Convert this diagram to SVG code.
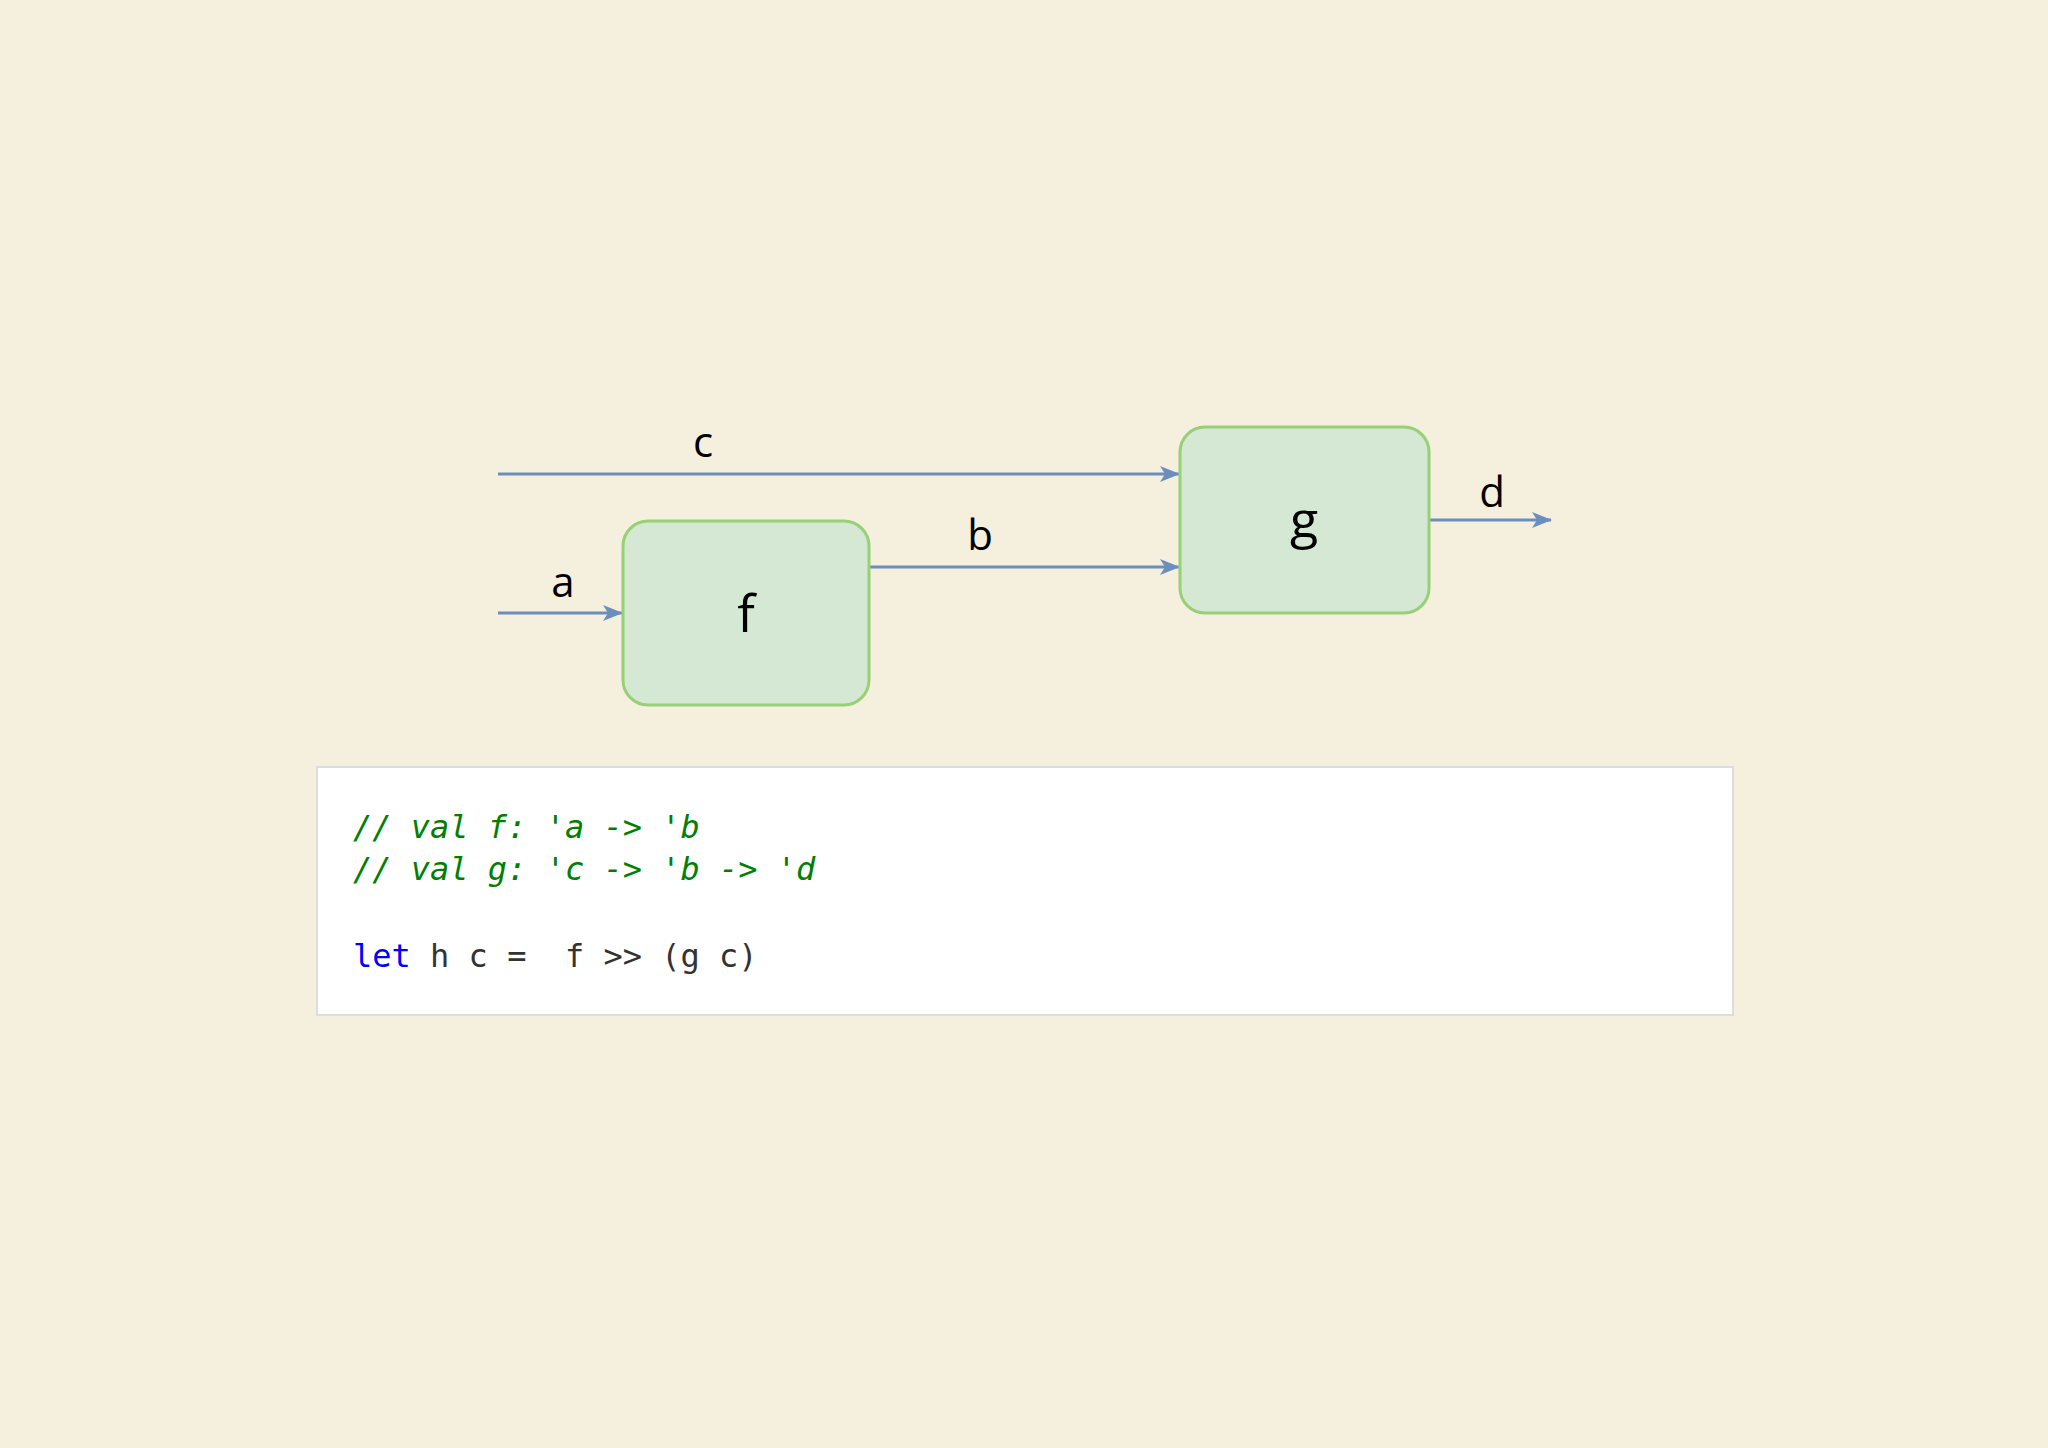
<svg xmlns="http://www.w3.org/2000/svg" width="2048" height="1448" viewBox="0 0 2048 1448">
<defs>
<style>
.node{fill:#d5e8d4;stroke:#97d077;stroke-width:3}
.edge{stroke:#6c8ebf;stroke-width:3;fill:none}
.lbl{font-family:"Open Sans","DejaVu Sans",sans-serif;font-size:42px;fill:#000;text-anchor:middle}
.nlbl{font-family:"Open Sans","DejaVu Sans",sans-serif;font-size:52px;fill:#000;text-anchor:middle}
.code{font-family:"DejaVu Sans Mono","Liberation Mono",monospace;font-size:32px;white-space:pre}
.cm{fill:#008000;font-style:italic}
.kw{fill:#0000ff}
.tx{fill:#333333}
</style>
<marker id="arr" viewBox="0 0 20 16" refX="19" refY="8" markerWidth="20" markerHeight="16" markerUnits="userSpaceOnUse" orient="auto">
<path d="M0,0 L20,8 L0,16 L5,8 Z" fill="#6c8ebf"/>
</marker>
</defs>
<rect width="2048" height="1448" fill="#f4f0dd"/>
<g id="connectors">
<line class="edge" x1="498" y1="474" x2="1179" y2="474" marker-end="url(#arr)"/>
<line class="edge" x1="498" y1="613" x2="622" y2="613" marker-end="url(#arr)"/>
<line class="edge" x1="869" y1="567" x2="1179" y2="567" marker-end="url(#arr)"/>
<line class="edge" x1="1429" y1="520" x2="1551" y2="520" marker-end="url(#arr)"/>
<text class="lbl" x="703" y="457">c</text>
<text class="lbl" x="563" y="597">a</text>
<text class="lbl" x="980" y="550">b</text>
<text class="lbl" x="1492" y="507">d</text>
</g>
<g id="node-f">
<rect class="node" x="623" y="521" width="246" height="184" rx="25"/>
<text class="nlbl" x="746" y="632">f</text>
</g>
<g id="node-g">
<rect class="node" x="1180" y="427" width="249" height="186" rx="25"/>
<text class="nlbl" x="1304" y="538">g</text>
</g>
<g id="code">
<rect x="317" y="767" width="1416" height="248" fill="#ffffff" stroke="#dddddd" stroke-width="2"/>
<text class="code cm" x="353" y="838">// val f: 'a -&gt; 'b</text>
<text class="code cm" x="353" y="880">// val g: 'c -&gt; 'b -&gt; 'd</text>
<text class="code" x="353" y="967"><tspan class="kw">let</tspan><tspan class="tx"> h c =  f &gt;&gt; (g c)</tspan></text>
</g>
</svg>
